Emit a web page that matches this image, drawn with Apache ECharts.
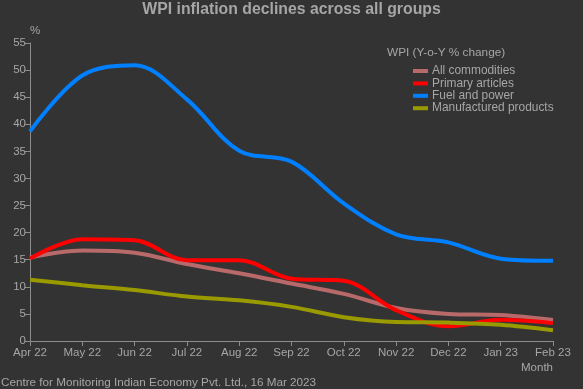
<!DOCTYPE html>
<html><head><meta charset="utf-8">
<script src="https://cdn.jsdelivr.net/npm/echarts@6/dist/echarts.min.js"></script>
<style>html,body{margin:0;padding:0;background:#333333;}#c{width:583px;height:389px;}</style>
</head><body><div id="c"></div>
<script>
var months = ['Apr 22','May 22','Jun 22','Jul 22','Aug 22','Sep 22','Oct 22','Nov 22','Dec 22','Jan 23','Feb 23'];
var allCommodities = [15.4, 16.7, 16.3, 14.2, 12.5, 10.6, 8.7, 6.1, 5.0, 4.8, 3.9];
var primaryArticles = [15.2, 18.8, 18.6, 14.9, 14.9, 11.5, 11.1, 5.7, 2.7, 3.9, 3.3];
var fuelPower = [38.7, 49.0, 50.9, 44.6, 35.1, 33.1, 25.4, 19.7, 18.2, 15.2, 14.8];
var manufactured = [11.3, 10.3, 9.4, 8.2, 7.5, 6.3, 4.4, 3.5, 3.4, 3.0, 2.0];
var yTicks = {min: 0, max: 55, interval: 5};

var txt = '#a6a6a6';
var ff = 'Liberation Sans';
var chart = echarts.init(document.getElementById('c'));
function mk(name, data, color) {
  return {name: name, type: 'line', data: data, smooth: 0.35, symbol: 'none',
    lineStyle: {color: color, width: 4}, itemStyle: {color: color}};
}
chart.setOption({
  backgroundColor: '#333333',
  animation: false,
  title: [
    {text: 'WPI inflation declines across all groups', left: 'center', top: -3,
     textStyle: {color: txt, fontSize: 15.8, fontWeight: 'bold', fontFamily: ff}},
    {text: 'WPI (Y-o-Y % change)', left: 382, top: 42,
     textStyle: {color: txt, fontSize: 11.8, fontWeight: 'normal', fontFamily: ff}},
    {text: 'Centre for Monitoring Indian Economy Pvt. Ltd., 16 Mar 2023', left: -4, top: 372,
     textStyle: {color: txt, fontSize: 11.7, fontWeight: 'normal', fontFamily: ff}}
  ],
  legend: {orient: 'vertical', left: 408, top: 60, itemWidth: 15, itemHeight: 4, itemGap: 0.4,
    icon: 'rect', textStyle: {color: txt, fontSize: 11.9, lineHeight: 12, fontFamily: ff, padding: [0,0,0,-1]},
    data: ['All commodities','Primary articles','Fuel and power','Manufactured products']},
  grid: {left: 30, right: 30, top: 43, bottom: 48},
  xAxis: {type: 'category', data: months, boundaryGap: false, name: 'Month',
    nameLocation: 'end', nameGap: 0,
    nameTextStyle: {color: txt, fontSize: 11.5, fontFamily: ff, align: 'right', verticalAlign: 'top', padding: [21, 0, 0, 0]},
    axisLine: {lineStyle: {color: '#8c8c8c'}},
    axisTick: {alignWithLabel: true, lineStyle: {color: '#8c8c8c'}, length: 5},
    axisLabel: {color: txt, fontSize: 11.5, fontFamily: ff, margin: 6},
    splitLine: {show: false}},
  yAxis: {type: 'value', min: yTicks.min, max: yTicks.max, interval: yTicks.interval, name: '%',
    nameLocation: 'end', nameGap: 2,
    nameTextStyle: {color: txt, fontSize: 11.5, fontFamily: ff, align: 'left', padding: [0,0,0,0]},
    axisLine: {show: true, lineStyle: {color: '#8c8c8c'}},
    axisTick: {show: true, lineStyle: {color: '#8c8c8c'}, length: 5},
    axisLabel: {color: txt, fontSize: 11.5, fontFamily: ff, margin: 4},
    splitLine: {show: false}},
  series: [
    mk('All commodities', allCommodities, '#b86a6a'),
    mk('Primary articles', primaryArticles, '#ff0000'),
    mk('Fuel and power', fuelPower, '#0080ff'),
    mk('Manufactured products', manufactured, '#999900')
  ]
});
</script></body></html>
